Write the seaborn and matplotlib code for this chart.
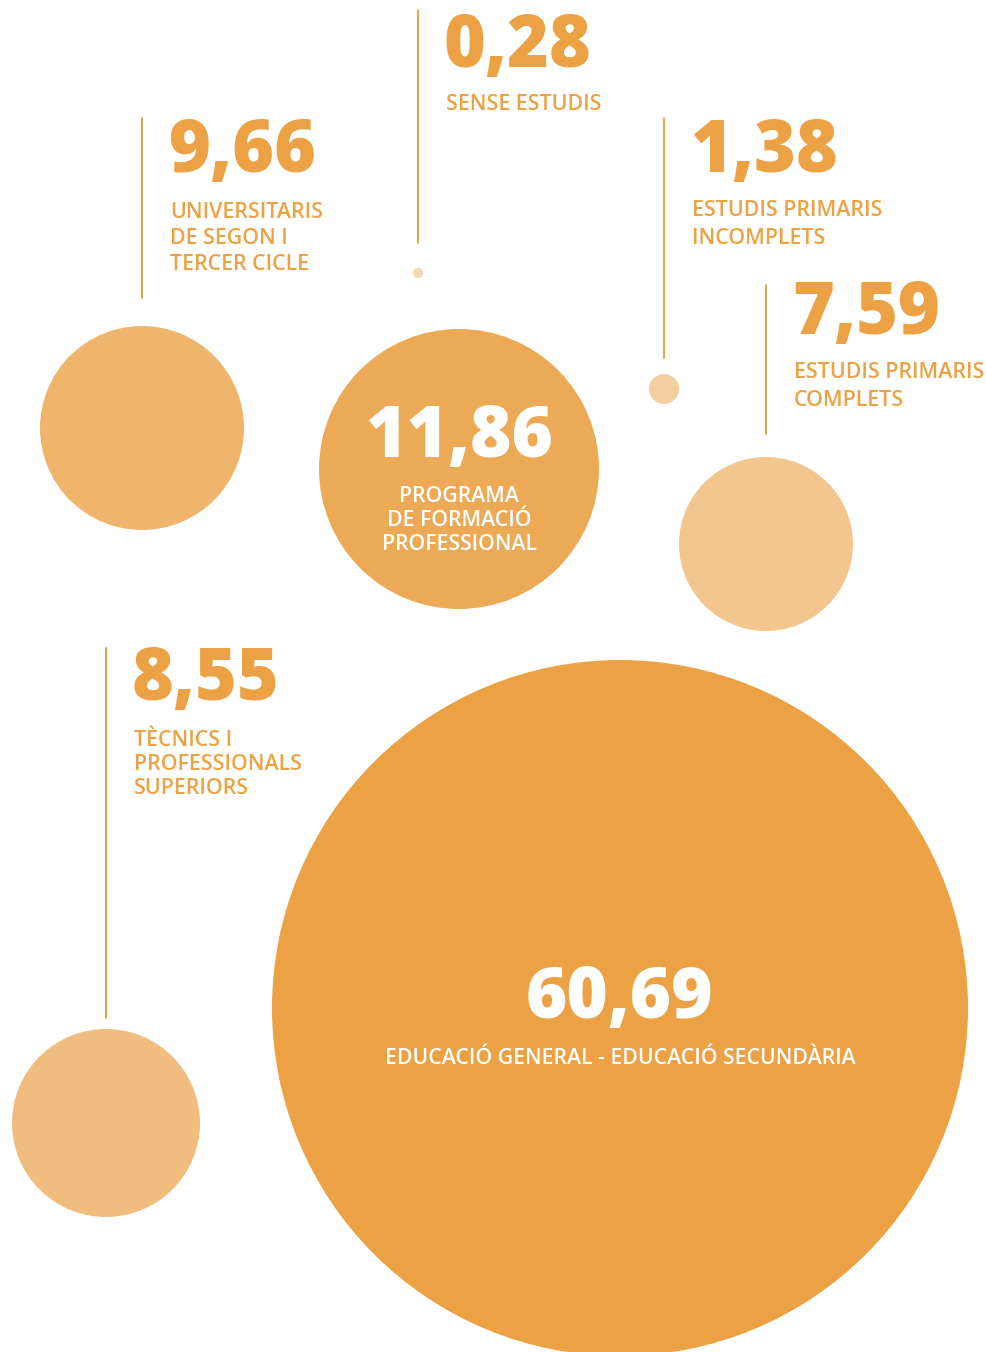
import matplotlib
matplotlib.use("Agg")
import matplotlib.pyplot as plt
import seaborn as sns

# data: share of population by education level (%)
categories = [
    "SENSE ESTUDIS",
    "UNIVERSITARIS DE SEGON I TERCER CICLE",
    "ESTUDIS PRIMARIS INCOMPLETS",
    "ESTUDIS PRIMARIS COMPLETS",
    "PROGRAMA DE FORMACIÓ PROFESSIONAL",
    "TÈCNICS I PROFESSIONALS SUPERIORS",
    "EDUCACIÓ GENERAL - EDUCACIÓ SECUNDÀRIA",
]
values = [0.28, 9.66, 1.38, 7.59, 11.86, 8.55, 60.69]
label_lines = [
    ["SENSE ESTUDIS"],
    ["UNIVERSITARIS", "DE SEGON I", "TERCER CICLE"],
    ["ESTUDIS PRIMARIS", "INCOMPLETS"],
    ["ESTUDIS PRIMARIS", "COMPLETS"],
    ["PROGRAMA", "DE FORMACIÓ", "PROFESSIONAL"],
    ["TÈCNICS I", "PROFESSIONALS", "SUPERIORS"],
    ["EDUCACIÓ GENERAL - EDUCACIÓ SECUNDÀRIA"],
]

# layout (pixel space, y down)
cx = [418, 142, 664, 766, 459, 106, 620]
cy = [273, 428, 389, 544, 469, 1123, 1008]
radius = [5, 102, 15, 87, 140, 94, 348]
colors = ["#F6D6AB", "#F0B56C", "#F4CE9F", "#F3C68F", "#EDAA56", "#F1BD7E", "#ECA244"]
# callout: stem top, stem bottom, number baseline (None -> text inside bubble)
stem_top = [10, 118, 118, 285, None, 648, None]
stem_bot = [243, 298, 358, 434, None, 1018, None]
num_base = [67, 172, 172, 334, 457, 700, 1018]
lab_first = [105, 212, 211, 373, 496, 740, 1059]
lab_step = [0, 26, 27, 27, 24, 24.5, 0]

ORANGE = "#ECA244"
W, H, DPI = 987, 1352, 100

sns.set_style("white")
plt.rcParams["font.family"] = ["Open Sans", "DejaVu Sans"]

fig = plt.figure(figsize=(W / DPI, H / DPI), dpi=DPI)
ax = fig.add_axes([0, 0, 1, 1])
ax.set_xlim(0, W)
ax.set_ylim(H, 0)
ax.set_axis_off()

# marker area in pt^2 so that the diameter matches 2*radius px
px2pt = 72 / DPI
sizes = {c: (2 * r * px2pt) ** 2 for c, r in zip(categories, radius)}
palette = dict(zip(categories, colors))
sns.scatterplot(x=cx, y=cy, hue=categories, size=categories, palette=palette,
                sizes=sizes, linewidth=0, legend=False, ax=ax, clip_on=False)

for i, cat in enumerate(categories):
    txt = f"{values[i]:.2f}".replace(".", ",")
    if stem_top[i] is not None:
        ax.plot([cx[i], cx[i]], [stem_top[i], stem_bot[i]], color=ORANGE, lw=1.4)
        x0 = cx[i] + 28
        ax.text(x0 - 2, num_base[i], txt, color=ORANGE, fontsize=51.5, fontweight=800,
                ha="left", va="baseline")
        for j, line in enumerate(label_lines[i]):
            ax.text(x0, lab_first[i] + j * lab_step[i], line, color=ORANGE,
                    fontsize=15.4, fontweight=600, ha="left", va="center")
    else:
        ax.text(cx[i], num_base[i], txt, color="white", fontsize=51, fontweight=800,
                ha="center", va="baseline")
        for j, line in enumerate(label_lines[i]):
            ax.text(cx[i], lab_first[i] + j * lab_step[i], line, color="white",
                    fontsize=15.3, fontweight=600, ha="center", va="center")

fig.savefig("out.png", dpi=DPI)
